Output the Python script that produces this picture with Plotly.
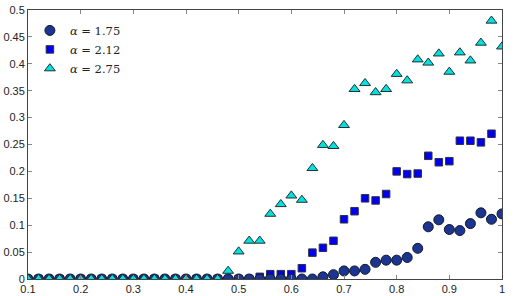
import plotly.graph_objects as go

x_vals = [round(0.1 + 0.02 * i, 2) for i in range(46)]

# alpha = 1.75 (circles)
y_175 = [0]*28 + [0.004, 0.008, 0.015, 0.015, 0.018, 0.031, 0.035, 0.035, 0.040, 0.057,
                  0.097, 0.110, 0.092, 0.090, 0.103, 0.123, 0.111, 0.121]
# alpha = 2.12 (squares), 0.10 .. 0.98
y_212 = [0]*22 + [0.004, 0.009, 0.009, 0.009, 0.020, 0.049, 0.058, 0.071, 0.111, 0.126,
                  0.150, 0.146, 0.158, 0.200, 0.195, 0.196, 0.229, 0.217, 0.219, 0.257,
                  0.257, 0.254, 0.270]
x_212 = x_vals[:len(y_212)]
# alpha = 2.75 (triangles)
y_275 = [0]*19 + [0.015, 0.051, 0.071, 0.071, 0.121, 0.139, 0.155, 0.147, 0.206, 0.249,
                  0.247, 0.286, 0.353, 0.364, 0.347, 0.353, 0.381, 0.369, 0.408, 0.402,
                  0.419, 0.385, 0.421, 0.406, 0.439, 0.480, 0.432]

x_ticks = [0.1, 0.2, 0.3, 0.4, 0.5, 0.6, 0.7, 0.8, 0.9, 1]
x_tick_text = ["0.1", "0.2", "0.3", "0.4", "0.5", "0.6", "0.7", "0.8", "0.9", "1"]
y_ticks = [0, 0.05, 0.1, 0.15, 0.2, 0.25, 0.3, 0.35, 0.4, 0.45, 0.5]
y_tick_text = ["0", "0.05", "0.1", "0.15", "0.2", "0.25", "0.3", "0.35", "0.4", "0.45", "0.5"]

fig = go.Figure()
fig.add_trace(go.Scatter(
    x=x_212, y=y_212, mode="markers", name="<i>α</i> = 2.12", legendrank=2,
    marker=dict(symbol="square", size=7.5, color="#0000f0",
                line=dict(color="#303040", width=1))))
fig.add_trace(go.Scatter(
    x=x_vals, y=y_175, mode="markers", name="<i>α</i> = 1.75", legendrank=1,
    marker=dict(symbol="circle", size=10, color="#1c3590",
                line=dict(color="#101828", width=1))))
fig.add_trace(go.Scatter(
    x=x_vals, y=y_275, mode="markers", name="<i>α</i> = 2.75", legendrank=3,
    marker=dict(symbol="triangle-up", size=9.5, color="#00e0e0",
                line=dict(color="#203030", width=1))))

axis_common = dict(showgrid=False, zeroline=False, showline=True, linecolor="#444444",
                   linewidth=1, mirror="ticks", ticks="inside", ticklen=4,
                   tickcolor="#888888", automargin=False,
                   tickfont=dict(family="Liberation Sans, Arial, sans-serif", size=11,
                                 color="#222222"))

fig.update_layout(
    width=514, height=296,
    margin=dict(l=28, r=12, t=10, b=17, autoexpand=False),
    paper_bgcolor="white", plot_bgcolor="white",
    xaxis=dict(range=[0.1, 1], tickvals=x_ticks, ticktext=x_tick_text, **axis_common),
    yaxis=dict(range=[0, 0.5], tickvals=y_ticks, ticktext=y_tick_text, **axis_common),
    legend=dict(x=0.004, y=0.978, xanchor="left", yanchor="top",
                bgcolor="rgba(0,0,0,0)",
                font=dict(family="DejaVu Serif, Liberation Serif, serif", size=11.5,
                          color="#222222"),
                tracegroupgap=0),
    showlegend=True,
)

fig.write_html(
    "out.html",
    config={"displayModeBar": False},
    post_script="document.body.style.margin='0';document.body.style.overflow='hidden';",
)
